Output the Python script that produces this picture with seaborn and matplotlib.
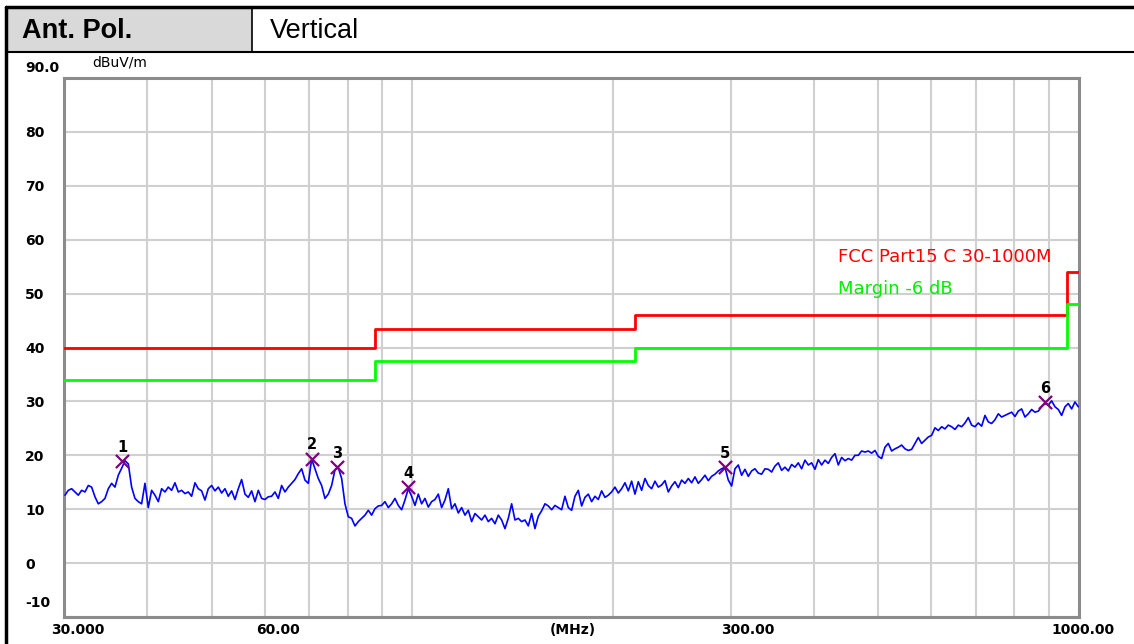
import numpy as np
import matplotlib
matplotlib.use('Agg')  # headless
import matplotlib.pyplot as plt
import seaborn as sns
from matplotlib.patches import Rectangle
from matplotlib.lines import Line2D
from matplotlib.ticker import NullLocator

# ---- data ----
# sweep (MHz), log spaced like the receiver
SWEEP_START = 30.1
SWEEP_STOP = 997.6

# measured level, dBuV/m, one value per sweep point
trace_30_60 = [12.6, 13.5, 13.8, 13.2, 12.6, 13.5, 13.2, 14.4, 14.1, 12.3,
               11.0, 11.4, 12.0, 13.8, 14.8, 14.1, 16.3, 17.6, 19.0, 18.4,
               14.1, 12.0, 11.4, 11.0, 14.8, 10.3, 13.5, 12.6, 11.4, 13.8,
               13.2, 14.1, 13.5, 14.9, 13.2, 13.5, 12.9, 13.2, 12.4, 14.9,
               13.8, 13.4, 11.7, 13.8, 14.4, 13.4, 14.1, 13.0, 13.8, 12.4,
               13.4, 11.8, 13.8, 15.5, 12.8, 12.2, 13.4, 11.4, 13.5]
trace_60_120 = [12.0, 11.8, 12.3, 12.4, 13.2, 12.0, 14.4, 13.2, 14.1, 14.8,
                15.5, 16.6, 17.5, 15.4, 14.8, 19.3, 17.5, 15.7, 14.4, 12.0,
                12.8, 14.4, 17.3, 17.7, 15.7, 11.0, 8.6, 8.3, 6.9, 7.7,
                8.3, 8.9, 9.8, 8.9, 10.1, 10.6, 10.7, 11.4, 10.3, 11.0,
                12.0, 10.7, 9.9, 11.7, 13.8, 12.4, 10.7, 12.8, 11.0, 12.0,
                10.4, 11.4, 11.8, 12.8, 10.3, 11.7, 13.8, 10.1, 11.0, 9.3]
trace_120_240 = [10.3, 8.9, 9.8, 7.7, 9.2, 8.6, 8.0, 8.9, 7.7, 8.3,
                 7.3, 8.9, 8.0, 6.4, 8.3, 11.0, 8.0, 8.3, 7.7, 8.0,
                 6.9, 9.2, 6.4, 8.7, 9.7, 11.0, 10.6, 9.9, 10.7, 10.3,
                 9.9, 12.4, 10.3, 9.8, 12.4, 13.5, 10.6, 12.2, 12.8, 11.4,
                 12.4, 11.8, 13.4, 12.2, 12.6, 13.2, 14.1, 13.0, 13.8, 14.9,
                 13.4, 15.2, 12.8, 15.1, 13.5, 15.7, 14.4, 13.8, 15.2, 14.1]
trace_240_480 = [14.5, 15.3, 13.2, 14.3, 15.1, 14.0, 15.4, 14.8, 15.7, 14.9,
                 16.0, 14.8, 15.5, 16.3, 15.3, 16.1, 16.5, 17.1, 17.5, 17.8,
                 15.4, 14.3, 17.5, 18.2, 16.3, 17.4, 16.1, 17.1, 17.5, 16.7,
                 16.5, 17.5, 17.4, 16.9, 18.0, 18.6, 17.2, 17.8, 17.1, 18.3,
                 17.8, 18.6, 17.5, 19.1, 18.2, 18.6, 17.4, 19.2, 18.2, 19.1,
                 18.5, 19.6, 20.3, 18.2, 19.6, 19.0, 19.4, 19.1, 20.0, 20.0]
trace_480_1000 = [20.8, 20.6, 20.8, 20.4, 20.9, 19.8, 19.4, 21.5, 22.2, 20.8,
                  21.2, 21.5, 21.9, 21.2, 20.9, 21.1, 22.2, 23.3, 22.2, 22.8,
                  23.4, 23.7, 25.1, 24.6, 25.3, 24.9, 25.6, 25.3, 24.8, 25.6,
                  25.3, 26.0, 27.0, 25.6, 25.3, 26.0, 25.4, 27.4, 26.2, 25.9,
                  26.6, 27.7, 27.1, 27.4, 27.7, 28.0, 27.2, 28.2, 28.6, 27.1,
                  27.7, 28.5, 28.0, 28.2, 29.0, 29.6, 29.3, 30.1, 29.0, 28.5,
                  27.4, 29.0, 29.6, 28.6, 29.9, 29.0]

# limit line (step edges) and margin
limit_freq = [30, 88, 216, 960, 1000]
limit_level = [40, 43.5, 46, 54, 54]
margin_db = 6

# peak markers
marker_id = ['1', '2', '3', '4', '5', '6']
marker_freq = [36.7, 70.7, 77.0, 98.6, 294.0, 889.0]
marker_level = [18.9, 19.4, 17.8, 14.1, 17.8, 29.9]

# axis grid / labels
grid_freq = [40, 50, 60, 70, 80, 90, 100, 200, 300, 400, 500, 600, 700, 800, 900]
y_ticks = list(range(-10, 91, 10))
x_labels = ['30.000', '60.00', '(MHz)', '300.00', '1000.00']
x_label_px = [78, 278, 573, 748, 1083]

level = np.array(trace_30_60 + trace_60_120 + trace_120_240 + trace_240_480 + trace_480_1000)
freq = np.geomspace(SWEEP_START, SWEEP_STOP, len(level))

sns.set_theme(style='white')
plt.rcParams['font.family'] = ['DejaVu Sans']
plt.rcParams['text.color'] = 'black'
plt.rcParams['xtick.color'] = 'black'
plt.rcParams['ytick.color'] = 'black'

W, H = 1134, 644
fig = plt.figure(figsize=(W / 100, H / 100), dpi=100)


def fx(px):
    return px / W


def fy(py):
    return 1 - py / H


# header table
fig.patches.append(Rectangle((fx(7), fy(52)), fx(245), 44 / H, transform=fig.transFigure,
                             facecolor='#d9d9d9', edgecolor='none', zorder=0))
for xs, ys, lw in [([6, W], [7, 7], 2.5), ([6, W], [52, 52], 1.5),
                   ([6, 6], [7, H], 2.5), ([252, 252], [7, 52], 1.2)]:
    fig.lines.append(Line2D([fx(v) for v in xs], [fy(v) for v in ys], transform=fig.transFigure,
                            color='black', lw=lw))
fig.text(fx(22), fy(31), 'Ant. Pol.', fontsize=19.5, fontweight='bold', va='center', ha='left',
         family='Liberation Sans', color='black')
fig.text(fx(270), fy(31), 'Vertical', fontsize=19.5, va='center', ha='left',
         family='Liberation Sans', color='black')

ax = fig.add_axes([fx(64), fy(617), fx(1079 - 64), (617 - 78) / H])

# trace
sns.lineplot(x=freq, y=level, ax=ax, color='#0000ff', lw=1.2, estimator=None, sort=False, zorder=3)

# limit and margin
sns.lineplot(x=limit_freq, y=limit_level, ax=ax, color='#ff0000', lw=2, drawstyle='steps-post',
             estimator=None, zorder=4)
sns.lineplot(x=limit_freq, y=[v - margin_db for v in limit_level], ax=ax, color='#00ff00', lw=2,
             drawstyle='steps-post', estimator=None, zorder=4)

# markers
sns.scatterplot(x=marker_freq, y=marker_level, ax=ax, marker='x', color='#800080', s=90,
                linewidth=1.6, zorder=5)
for lab, f, v in zip(marker_id, marker_freq, marker_level):
    ax.annotate(lab, (f, v), xytext=(0, 10), textcoords='offset points', ha='center', va='center',
                fontsize=10.5, fontweight='bold', color='black', zorder=6)

ax.set_xscale('log')
ax.set_xlim(30, 1000)
ax.set_ylim(-10, 90)
ax.set_xticks(grid_freq)
ax.set_xticklabels([])
ax.xaxis.set_minor_locator(NullLocator())
ax.set_yticks(y_ticks)
ax.set_yticklabels(['' if t in (-10, 90) else str(t) for t in y_ticks])
for lab in ax.get_yticklabels():
    lab.set_ha('left')
    lab.set_fontweight('bold')
    lab.set_fontsize(10)
    lab.set_color('black')
ax.tick_params(axis='both', length=0)
ax.tick_params(axis='y', pad=28)
ax.grid(True, color='#d0d0d0', lw=1.5)
ax.set_axisbelow(True)
for sp in ax.spines.values():
    sp.set_color('#8c8c8c')
    sp.set_linewidth(2.2)
ax.set_xlabel('')
ax.set_ylabel('')

# y end labels and unit
fig.text(fx(25), fy(68), '90.0', fontsize=10, fontweight='bold', ha='left', va='center')
fig.text(fx(25), fy(603), '-10', fontsize=10, fontweight='bold', ha='left', va='center')
fig.text(fx(92), fy(62), 'dBuV/m', fontsize=10, ha='left', va='center')

# x labels
for lab, px in zip(x_labels, x_label_px):
    fig.text(fx(px), fy(630), lab, fontsize=10, fontweight='bold', ha='center', va='center')

# legend texts
ax.text(fx(838 - 64) / fx(1079 - 64), (617 - 257) / (617 - 78), 'FCC Part15 C 30-1000M',
        transform=ax.transAxes, color='#ff0000', fontsize=13, ha='left', va='center')
ax.text(fx(838 - 64) / fx(1079 - 64), (617 - 289) / (617 - 78), 'Margin -6 dB',
        transform=ax.transAxes, color='#00ee00', fontsize=13, ha='left', va='center')

fig.savefig('out.png', dpi=100)
